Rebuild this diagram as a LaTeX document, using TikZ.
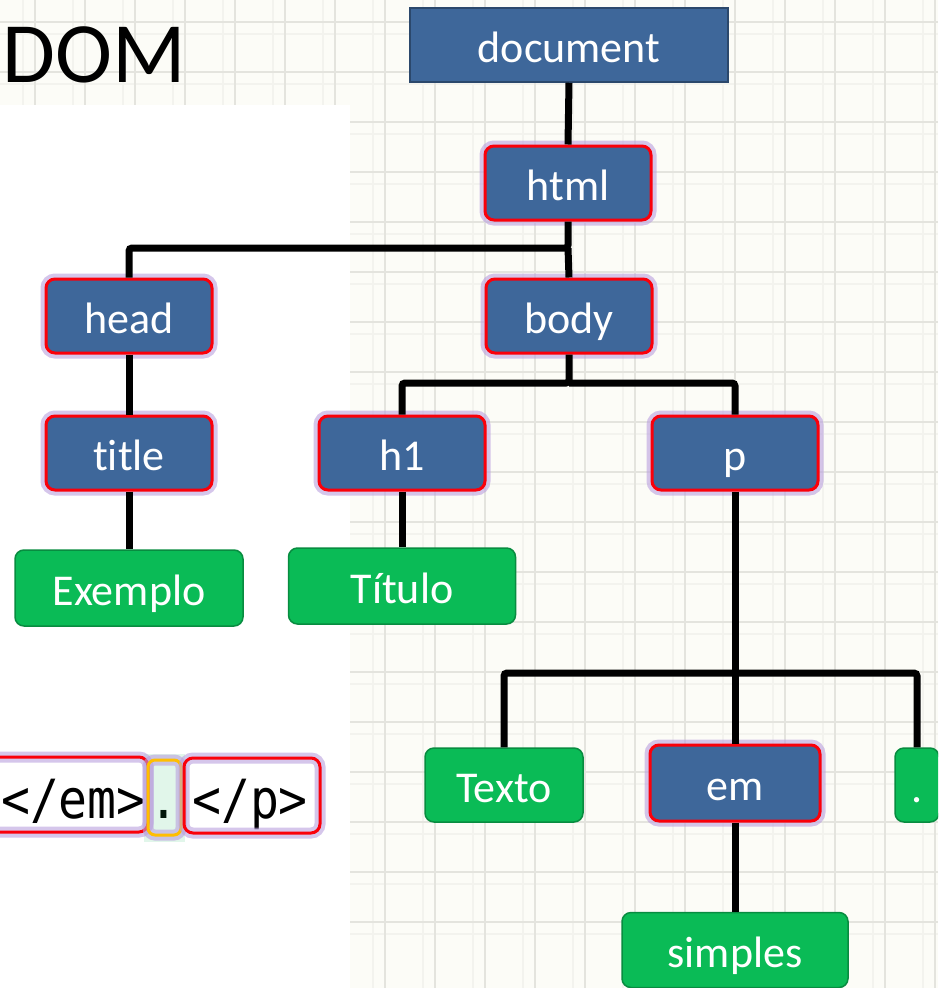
\documentclass[tikz,border=0pt]{standalone}
\usepackage{fontspec}
\setmainfont{Carlito}[Ligatures=NoCommon]
\newfontfamily\codefont[FakeStretch=0.89]{DejaVu Sans Mono}
\usetikzlibrary{positioning}

\definecolor{paper}{RGB}{252,252,247}
\definecolor{gridline}{RGB}{228,228,222}
\definecolor{gridfaint}{RGB}{243,243,238}
\definecolor{nodeblue}{RGB}{62,103,154}
\definecolor{tagred}{RGB}{250,0,10}
\definecolor{glow}{RGB}{186,160,222}
\definecolor{leafgreen}{RGB}{10,187,86}
\definecolor{dotorange}{RGB}{255,190,0}

\newcommand\labelfont{\fontsize{44}{44}\selectfont}

\begin{document}
\begin{tikzpicture}[
    x=1pt, y=-1pt,
    elem/.style={rectangle,rounded corners=9pt,fill=nodeblue,draw=tagred,line width=3pt,
      minimum width=166pt,minimum height=74pt,inner sep=0pt,text=white,font=\labelfont,
      text height=34pt,text depth=0pt,
      preaction={draw=glow,line width=11pt,draw opacity=0.6}},
    root/.style={rectangle,fill=nodeblue,draw=nodeblue!70!black,line width=1.5pt,
      minimum width=318pt,minimum height=74pt,inner sep=0pt,text=white,font=\labelfont,
      text height=34pt,text depth=0pt},
    leaf/.style={rectangle,rounded corners=9pt,fill=leafgreen,draw=leafgreen!75!black,line width=1.5pt,
      minimum height=76pt,inner sep=0pt,text=white,font=\labelfont,
      text height=34pt,text depth=0pt},
    link/.style={line width=7pt,rounded corners=3pt},
    tagbox/.style={rounded corners=9pt,line width=3pt,
      preaction={draw=glow,line width=11pt,draw opacity=0.6}}
    ]

    % page and grid:
    \useasboundingbox (0,0) rectangle (938,988);
    \clip (0,0) rectangle (938,988);
    \fill [paper] (0,0) rectangle (938,988);
    \foreach \g in {0,...,18} {
      \draw [gridfaint,line width=1.2pt] (35+50*\g-12,0) -- (35+50*\g-12,988);
      \draw [gridfaint,line width=1.2pt] (0,22+50*\g+12) -- (938,22+50*\g+12);
    }
    \foreach \g in {0,...,18} {
      \draw [gridline,line width=1.5pt] (35+50*\g,0) -- (35+50*\g,988);
      \draw [gridline,line width=1.5pt] (0,22+50*\g) -- (938,22+50*\g);
    }
    \fill [white] (0,105) rectangle (350,988);

    % title:
    \node (heading) at (0,82) [anchor=base west,inner sep=2pt,font=\fontsize{86}{86}\selectfont] {DOM};

    % tree, top levels:
    \node (doc) at (569,45) [root] {document};
    \node (html) at (568,183) [elem] {html};
    \node (head) at (129,316) [elem] {head};
    \node (body) at (569,316) [elem] {body};

    % tree, middle level:
    \node (title) at (129,453) [elem] {title};
    \node (hone) at (402,453) [elem] {h1};
    \node (para) at (735,453) [elem] {p};

    % text leaves:
    \node (exemplo) at (129,588) [leaf,minimum width=228pt] {Exemplo};
    \node (titulo) at (402,586) [leaf,minimum width=227pt] {Título};
    \node (texto) at (504,785) [leaf,minimum width=158pt,minimum height=74pt] {Texto};
    \node (em) at (735,783) [elem,minimum width=170pt,minimum height=76pt] {em};
    \node (dot) at (917,785) [leaf,minimum width=44pt,minimum height=74pt] {.};
    \node (simples) at (735,950) [leaf,minimum width=226pt,minimum height=75pt] {simples};

    % split points:
    \coordinate (hsplit) at (568,248);
    \coordinate (bsplit) at (569,383);
    \coordinate (psplit) at (735,673);

    % connect nodes:
    \draw [link] (doc.south) to (html.north);
    \draw [link] (html.south) -- (hsplit) -| (head.north);
    \draw [link] (hsplit) to (body.north);
    \draw [link] (head.south) to (title.north);
    \draw [link] (title.south) to (exemplo.north);
    \draw [link] (body.south) -- (bsplit) -| (hone.north);
    \draw [link] (bsplit) -| (para.north);
    \draw [link] (hone.south) to (titulo.north);
    \draw [link] (para.south) to (em.north);
    \draw [link] (psplit) -| (texto.north);
    \draw [link] (psplit) -| (dot.north);
    \draw [link] (em.south) to (simples.north);

    % closing tags:
    \node (endem) at (146,818) [anchor=base east,inner sep=0pt,font=\codefont\fontsize{54}{54}\selectfont] {</em>};
    \node (period) at (164,818) [anchor=base,inner sep=0pt,font=\codefont\fontsize{54}{54}\selectfont] {.};
    \node (endp) at (192,818) [anchor=base west,inner sep=0pt,font=\codefont\fontsize{54}{54}\selectfont] {</p>};
    \fill [leafgreen,opacity=0.12] (144,754) rectangle (185,842);
    \draw [tagbox,draw=tagred] (-20,757) rectangle (148,832);
    \draw [tagbox,draw=dotorange,rounded corners=7pt,preaction={}] (148,760) rectangle (181,835);
    \draw [tagbox,draw=tagred] (184,758) rectangle (320,833);

  \end{tikzpicture}
\end{document}
